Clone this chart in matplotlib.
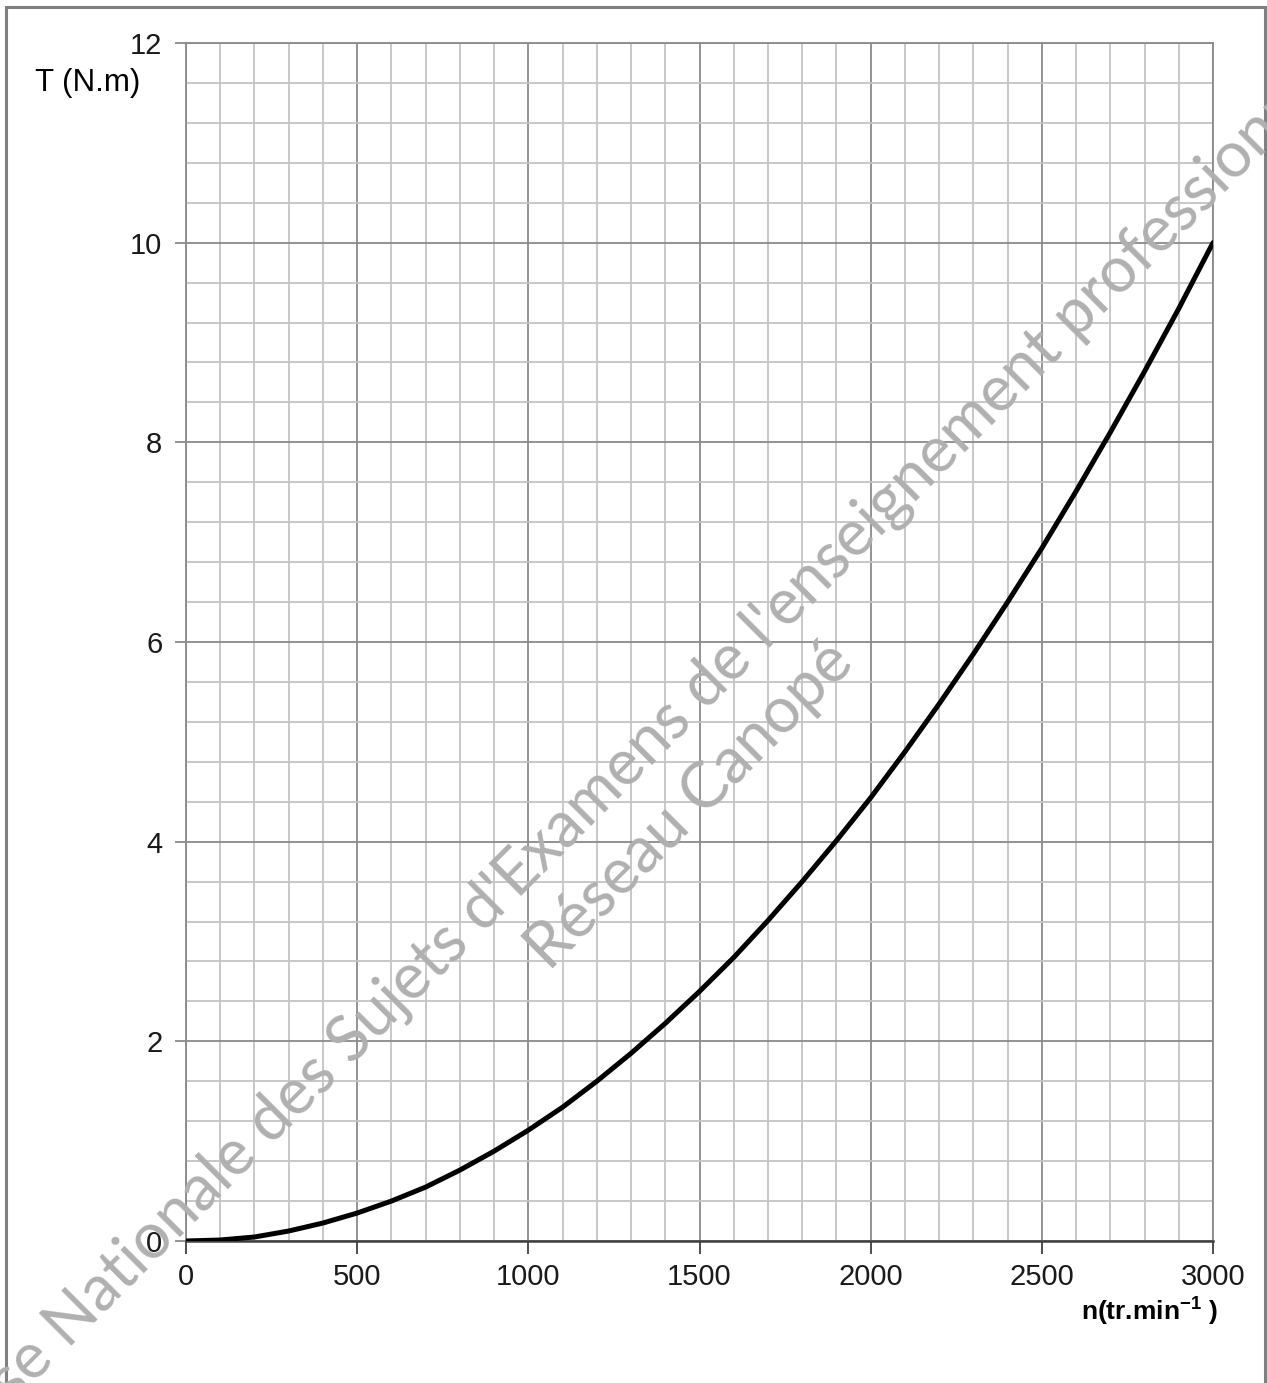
import matplotlib
matplotlib.use("Agg")
import matplotlib.pyplot as plt
from matplotlib.patches import Rectangle
from matplotlib.ticker import MultipleLocator

# Data
speed_rpm = [0, 100, 200, 300, 400, 500, 600, 700, 800, 900, 1000,
             1100, 1200, 1300, 1400, 1500, 1600, 1700, 1800, 1900, 2000,
             2100, 2200, 2300, 2400, 2500, 2600, 2700, 2800, 2900, 3000]
torque_nm = [0.0, 0.01, 0.04, 0.10, 0.18, 0.28, 0.40, 0.54, 0.71, 0.90, 1.11,
             1.34, 1.60, 1.88, 2.18, 2.50, 2.84, 3.21, 3.60, 4.01, 4.44,
             4.90, 5.38, 5.88, 6.40, 6.94, 7.51, 8.10, 8.71, 9.34, 10.0]
x_ticks = [0, 500, 1000, 1500, 2000, 2500, 3000]
y_ticks = [0, 2, 4, 6, 8, 10, 12]
y_label = "T (N.m)"
x_label = "n(tr.min$^{\\mathbf{-1}}$ )"
watermark1 = "Base Nationale des Sujets d'Examens de l'enseignement professionnel"
watermark2 = "Réseau Canopé"

plt.rcParams['mathtext.fontset'] = 'custom'
plt.rcParams['mathtext.rm'] = 'Liberation Sans'
plt.rcParams['mathtext.it'] = 'Liberation Sans'
plt.rcParams['mathtext.bf'] = 'Liberation Sans:bold'

W, H = 1267, 1383
fig = plt.figure(figsize=(W / 100, H / 100), dpi=100)
fig.patch.set_facecolor('white')

# outer frame
fig.patches.append(Rectangle((6 / W, -0.01), (1265 - 6) / W, 1 - 7 / H + 0.01,
                             transform=fig.transFigure, fill=False,
                             edgecolor='#808080', linewidth=2.2, zorder=0))

ax = fig.add_axes([186 / W, 1 - 1241 / H, (1213 - 186) / W, (1241 - 43) / H])
ax.set_xlim(0, 3000)
ax.set_ylim(0, 12)

ax.xaxis.set_minor_locator(MultipleLocator(100))
ax.yaxis.set_minor_locator(MultipleLocator(0.4))
ax.set_xticks(x_ticks)
ax.set_yticks(y_ticks)

ax.grid(which='minor', color='#c4c4c4', linewidth=1.3)
ax.grid(which='major', color='#8a8a8a', linewidth=1.3)
ax.set_axisbelow(True)

for s in ['top', 'right', 'left']:
    ax.spines[s].set_color('#8a8a8a')
    ax.spines[s].set_linewidth(1.3)
ax.spines['bottom'].set_color('#404040')
ax.spines['bottom'].set_linewidth(1.8)

tick_font = {'family': 'Liberation Sans', 'size': 21}
ax.tick_params(axis='x', which='major', length=9, width=1.3, color='#404040',
               direction='out', pad=7)
ax.tick_params(axis='y', which='major', length=8, width=1.3, color='#8a8a8a',
               direction='out', pad=9)
ax.tick_params(which='minor', length=0)
ax.set_xticklabels([str(v) for v in x_ticks], fontdict=tick_font, color='#1a1a1a')
ax.set_yticklabels([str(v) for v in y_ticks], fontdict=tick_font, color='#1a1a1a')

ax.plot(speed_rpm, torque_nm, color='black', linewidth=3.6,
        solid_capstyle='round', zorder=3)

fig.text(35 / W, 1 - 83 / H, y_label, fontsize=22.5, family='Liberation Sans',
         ha='left', va='center')
fig.text(1218 / W, 1 - 1312 / H, x_label, fontsize=19,
         family='Liberation Sans', fontweight='bold', ha='right',
         va='center')

# watermark
fig.text(640 / W, 1 - 752 / H, watermark1, fontsize=46, family='Lato',
         fontweight='normal', color='#b0b0b0', rotation=45,
         rotation_mode='anchor', ha='center', va='center', zorder=10)
fig.text(690 / W, 1 - 806 / H, watermark2, fontsize=46, family='Lato',
         fontweight='normal', color='#b0b0b0', rotation=45,
         rotation_mode='anchor', ha='center', va='center', zorder=10)

fig.savefig('out.png', dpi=100)
